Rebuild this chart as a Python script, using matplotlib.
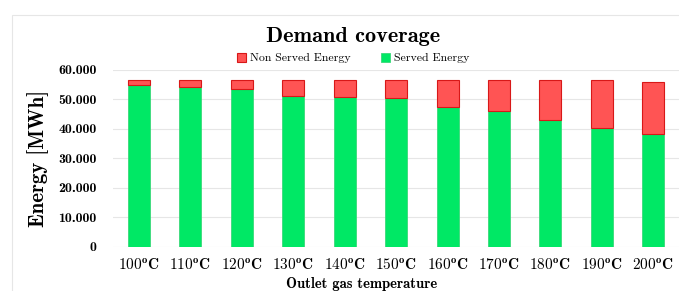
import numpy as np
import matplotlib
matplotlib.use('Agg')
import matplotlib.pyplot as plt
from matplotlib.patches import Rectangle

plt.rcParams['mathtext.fontset'] = 'cm'

temps = ['100', '110', '120', '130', '140', '150', '160', '170', '180', '190', '200']
served = [54900, 54150, 53570, 51290, 50950, 50610, 47450, 45990, 43130, 40310, 38270]
total = [56630, 56630, 56630, 56630, 56630, 56630, 56630, 56630, 56630, 56630, 56050]
non_served = [t - s for t, s in zip(total, served)]
yticks = [0, 10000, 20000, 30000, 40000, 50000, 60000]
ytick_labels = ['0', '10.000', '20.000', '30.000', '40.000', '50.000', '60.000']

bold = ['cmb10', 'DejaVu Serif']
regular = ['cmr10', 'DejaVu Serif']

fig = plt.figure(figsize=(6.79, 2.91), dpi=100)
# light frame around the chart area
fig.patches.append(Rectangle((12 / 679, -0.1), 1.0, 1 - 15 / 291 + 0.1,
                             transform=fig.transFigure, fill=False,
                             edgecolor='#e6e6e6', linewidth=0.8))

ax = fig.add_axes([113.3 / 679, 1 - 246.5 / 291, 1 - 113.3 / 679, (246.5 - 70) / 291])
x = np.arange(len(temps))
green = '#00e865'
red = '#ff5454'
ax.bar(x, served, width=0.43, color=green, edgecolor='#3ad87a', linewidth=0.6,
       label='Served Energy', zorder=3)
ax.bar(x, non_served, width=0.43, bottom=served, color=red, edgecolor='#d81818',
       linewidth=0.8, label='Non Served Energy', zorder=3)

ax.set_xlim(-0.5, len(temps) - 0.5)
ax.set_ylim(0, 60000)
ax.set_yticks(yticks)
ax.set_yticklabels(ytick_labels, family=bold, fontsize=10)
ax.set_xticks(x)
ax.set_xticklabels([r'$\mathbf{%s^{o}C}$' % t for t in temps], fontsize=11)
ax.tick_params(length=0, pad=12)
ax.tick_params(axis='x', pad=8)
ax.grid(axis='y', color='#e6e6e6', linewidth=0.8, zorder=0)
for s in ax.spines.values():
    s.set_visible(False)

ax.set_ylabel('Energy [MWh]', family=bold, fontsize=15, labelpad=7)
ax.set_xlabel('Outlet gas temperature', family=bold, fontsize=10.5, labelpad=3,
              x=(362 - 113.3) / (679 - 113.3))

fig.text(0.52, 1 - 37 / 291, 'Demand coverage', family=bold, fontsize=16,
         ha='center', va='center')

h, l = ax.get_legend_handles_labels()
fig.legend(h[::-1], l[::-1], loc='center', bbox_to_anchor=(0.52, 1 - 58 / 291),
           ncol=2, frameon=False, prop={'family': regular, 'size': 8.5},
           handlelength=0.8, handleheight=0.8, handletextpad=0.3, columnspacing=2.6)

plt.savefig('out.png', dpi=100)
